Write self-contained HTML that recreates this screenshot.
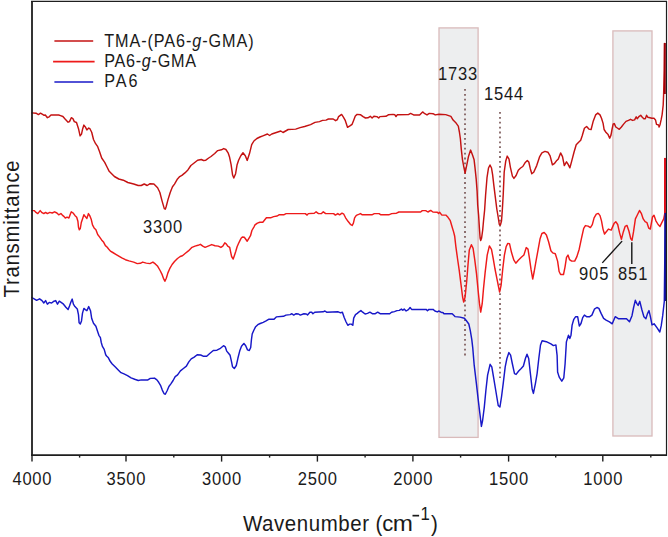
<!DOCTYPE html>
<html><head><meta charset="utf-8"><style>
html,body{margin:0;padding:0;background:#fff;}
svg{display:block;}
text{font-family:"Liberation Sans", sans-serif;}
</style></head><body>
<svg width="668" height="537" viewBox="0 0 668 537">
<rect width="668" height="537" fill="#fff"/>
<g fill="#edeeef" stroke="#d9bbbb" stroke-width="1.3">
<rect x="439" y="27.9" width="39.1" height="409.5"/>
<rect x="612.9" y="30.9" width="39.1" height="405.1"/>
</g>
<g fill="none" stroke="#6b4444" stroke-width="1.5" stroke-dasharray="1.8 3.1">
<line x1="465" y1="89" x2="465" y2="356"/>
<line x1="500" y1="112" x2="500" y2="378"/>
</g>
<g fill="none" stroke-width="1.45" stroke-linejoin="round" stroke-linecap="round">
<path d="M31.8 297.6L34.2 298.8L36.6 300.3L39.6 298.8L42.0 300.6L43.8 303.0L45.6 300.6L47.4 304.2L49.2 302.4L51.6 303.0L54.0 301.2L55.7 300.6L57.5 304.2L59.3 301.2L61.1 302.4L63.5 304.2L65.9 307.2L68.1 309.6L69.5 306.0L71.0 301.8L72.2 299.1L73.4 304.2L74.9 306.6L77.3 309.0L78.5 314.9L79.1 322.7L80.3 323.9L81.5 320.9L82.5 313.1L83.9 308.4L85.3 309.6L86.9 310.7L88.7 306.6L90.5 310.7L91.7 318.5L93.5 323.3L95.9 326.3L97.7 331.7L98.9 335.3L100.4 337.6L101.2 342.2L102.4 346.4L104.2 349.4L105.7 354.8L106.6 356.0L108.4 357.8L110.2 361.3L112.0 363.7L113.8 365.5L115.6 367.3L118.0 369.7L121.0 372.7L124.0 373.9L127.5 375.7L131.1 377.9L134.7 379.3L138.3 380.5L141.3 379.9L147.9 379.9L150.3 378.4L154.5 378.1L156.9 379.9L158.7 382.3L160.5 385.3L162.3 390.1L164.1 393.7L165.3 394.3L167.1 390.7L168.9 386.5L170.7 384.1L173.1 380.5L175.2 376.6L177.6 374.8L180.4 370.9L183.4 368.5L186.4 366.1L188.8 361.9L191.2 358.9L194.2 357.1L197.2 354.7L200.7 355.0L203.1 356.2L206.7 356.2L209.7 353.5L213.3 350.5L216.9 350.2L219.9 348.7L223.5 345.7L225.3 346.9L226.7 351.1L228.7 353.5L230.1 355.3L231.3 360.7L232.5 366.7L234.3 368.5L236.3 365.5L237.9 358.3L239.7 351.1L241.5 346.3L243.9 343.4L245.7 345.7L247.5 349.9L249.3 350.5L250.7 347.5L251.4 340.0L252.2 334.0L253.6 330.7L255.4 327.1L257.8 324.7L260.2 323.5L263.2 322.3L265.6 321.1L268.6 319.3L274.0 319.3L276.3 316.9L283.5 316.3L285.9 315.1L290.1 314.6L291.9 313.7L293.7 315.1L296.1 313.7L298.5 314.0L300.3 315.1L303.9 313.7L306.3 314.0L307.5 314.9L309.9 312.2L311.7 312.2L312.9 313.7L314.7 312.2L323.1 311.8L324.9 311.0L326.6 312.2L338.2 311.8L340.6 312.8L342.4 312.2L344.2 317.5L346.0 321.7L347.8 325.3L349.6 324.1L351.3 324.1L352.8 325.3L353.7 318.1L355.5 314.6L357.3 313.4L359.1 311.8L360.9 310.6L362.7 312.2L365.1 314.0L367.5 313.4L369.9 312.2L372.3 313.7L375.3 313.7L377.7 312.2L380.1 313.7L389.7 313.7L391.5 312.2L394.5 311.6L396.9 310.6L399.3 310.4L401.4 309.1L402.8 310.3L404.2 309.1L406.1 311.0L408.4 309.6L410.1 307.5L411.6 309.4L426.1 309.4L427.5 310.7L428.9 309.4L433.1 309.4L434.9 311.0L437.3 311.9L438.7 311.0L441.0 312.2L443.3 312.8L443.8 313.8L452.2 313.8L455.0 316.6L460.0 317.1L464.4 318.2L466.6 321.0L468.8 324.0L470.3 330.7L471.8 339.6L472.8 348.4L474.2 365.2L476.4 383.6L478.1 398.7L479.7 412.1L481.4 426.4L482.6 420.5L484.3 407.1L485.9 390.3L487.6 375.2L490.1 364.3L491.8 366.8L493.5 376.9L496.0 392.0L498.2 405.4L499.9 407.1L501.5 397.0L503.2 383.6L505.2 366.8L506.9 358.5L508.9 352.6L510.6 355.1L512.3 363.5L514.5 373.6L516.1 374.4L518.7 371.0L521.2 368.5L523.4 366.0L525.4 358.5L527.0 354.3L528.7 358.5L530.4 373.6L532.1 388.7L533.4 393.4L535.4 383.6L537.1 373.6L538.8 358.5L540.5 345.0L542.1 340.8L546.3 341.7L550.9 343.9L553.4 345.6L555.9 344.9L557.1 355.3L557.6 372.0L559.2 377.1L561.8 381.2L563.8 377.9L565.1 363.7L566.4 341.9L568.5 335.2L569.8 338.5L571.0 335.2L572.1 325.1L573.8 319.3L575.5 316.8L577.7 316.8L579.3 326.0L581.0 323.5L582.7 317.6L584.4 315.1L586.9 316.8L589.4 316.8L591.9 315.1L594.4 309.2L596.9 307.5L598.9 308.4L601.1 313.4L603.6 318.4L606.1 320.1L609.5 321.8L612.2 323.8L615.2 316.7L618.3 318.7L622.4 318.7L626.5 318.7L629.5 321.8L632.0 315.7L633.6 307.5L635.3 300.3L636.7 303.4L638.1 305.4L639.8 301.3L641.8 309.5L643.9 316.7L645.9 318.7L647.5 313.6L649.0 310.6L650.4 316.7L652.0 324.9L654.1 323.8L657.1 327.9L659.8 332.0L661.2 325.9L662.7 315.7L664.3 301.3L665.3 213.0" stroke="#1818c8"/>
<path d="M31.8 210.6L34.2 210.6L36.0 212.4L37.8 213.6L40.2 210.6L42.0 212.7L43.8 213.6L45.6 212.4L47.4 213.6L49.8 212.4L52.2 213.0L54.6 211.8L56.9 213.0L58.7 214.8L60.9 213.6L62.3 215.1L64.1 216.6L65.3 218.0L67.1 217.2L68.9 218.0L70.1 214.8L71.3 211.8L73.1 213.0L74.9 215.4L76.7 217.2L77.9 221.3L78.5 227.3L79.3 229.7L80.3 228.5L81.3 222.5L82.5 219.0L83.9 214.8L85.3 216.6L86.9 218.4L88.4 213.6L89.9 216.0L91.3 219.6L92.5 224.9L94.1 227.9L95.9 229.7L97.7 234.5L99.5 236.9L101.6 239.9L103.7 242.3L105.4 245.6L107.0 247.0L108.6 249.0L110.4 251.1L112.8 252.5L115.8 254.3L118.8 256.1L121.8 257.9L125.4 259.7L129.0 260.9L133.7 262.1L137.3 263.6L140.3 263.3L142.7 262.1L146.3 263.1L149.9 263.6L152.9 262.1L155.3 263.9L157.7 266.3L160.1 270.5L161.9 274.1L163.7 278.9L164.9 281.3L166.3 278.3L167.9 272.9L169.7 268.7L172.1 264.5L174.5 261.5L177.5 258.5L180.2 256.5L182.4 255.7L185.4 253.3L188.4 250.9L192.0 247.3L195.0 246.1L198.0 245.3L200.4 244.3L202.8 246.1L205.1 247.3L208.1 246.1L211.7 244.6L215.0 245.7L218.3 246.1L220.9 247.4L222.8 246.1L224.8 242.8L226.4 244.1L227.7 246.1L229.7 247.4L230.5 251.3L231.6 256.5L233.2 259.1L234.5 255.2L235.8 251.3L237.1 246.7L238.5 243.5L239.8 240.9L241.1 238.3L242.4 237.0L244.3 237.3L245.6 239.0L247.2 241.2L248.9 238.3L250.5 235.7L251.9 230.5L254.3 226.3L255.0 224.9L257.4 223.1L259.8 222.3L262.8 222.3L266.4 217.8L270.6 217.8L273.6 216.6L277.2 216.0L279.0 214.8L283.7 214.8L286.1 213.6L290.9 213.6L305.3 213.6L307.1 215.1L308.3 213.6L314.3 213.2L316.1 211.8L318.5 213.6L321.5 213.6L323.3 211.8L325.7 213.6L333.6 213.6L335.4 215.1L337.8 213.6L339.6 214.8L342.0 213.2L343.8 214.2L345.6 217.8L348.0 221.3L350.4 224.3L352.2 225.5L353.4 223.1L354.6 217.8L356.3 215.4L358.7 214.4L360.5 213.6L362.3 214.8L371.9 214.8L374.3 213.6L379.1 213.6L380.9 214.8L388.7 214.8L391.7 213.6L396.5 213.2L398.9 212.0L420.6 212.0L422.3 210.6L425.7 210.6L427.9 212.0L430.7 210.4L432.9 212.0L437.4 212.3L438.5 213.4L439.6 212.3L441.9 215.1L445.8 215.1L448.0 217.3L450.3 220.7L451.9 226.3L453.6 231.9L454.7 236.3L455.9 246.8L457.5 258.5L459.2 270.2L460.9 283.6L462.6 297.0L463.7 302.0L465.1 297.0L466.8 280.3L468.1 263.5L469.3 250.1L471.4 244.7L473.1 248.4L474.8 260.2L476.5 273.6L478.1 290.3L479.5 303.7L480.7 312.1L482.2 303.7L483.5 288.6L485.2 271.9L487.2 255.1L489.4 245.9L491.5 249.3L493.2 258.5L494.9 268.5L496.9 278.6L498.6 287.0L499.6 292.0L501.1 285.3L502.8 268.5L504.4 255.1L506.1 246.8L507.8 243.4L509.5 243.6L511.6 252.8L513.9 260.2L515.8 263.2L518.3 260.2L521.3 257.3L523.9 255.0L526.2 247.6L528.0 249.1L529.5 258.7L531.0 269.2L532.7 279.0L534.2 271.5L536.0 261.1L538.2 249.2L540.1 238.7L541.9 233.5L544.2 232.5L546.4 235.0L548.6 241.7L550.9 250.7L552.7 252.9L555.3 253.7L557.6 261.1L559.1 271.5L560.6 274.5L563.5 274.5L565.0 267.1L566.5 257.4L568.0 255.1L569.5 259.6L571.7 261.1L574.7 261.1L576.9 256.6L579.2 249.2L581.4 238.7L583.7 228.3L585.4 225.6L588.1 226.1L590.4 227.6L592.3 224.6L594.1 217.9L596.3 214.2L598.3 213.4L600.0 215.6L601.5 220.9L603.0 229.1L604.5 234.0L606.7 231.3L608.4 229.1L611.2 230.1L614.0 223.6L615.8 221.7L617.7 224.5L619.6 232.9L621.4 239.4L623.3 231.9L625.1 226.4L627.0 225.4L628.9 231.0L630.7 238.5L632.0 240.3L633.5 231.9L635.4 218.9L637.2 215.2L639.5 210.5L641.3 213.3L643.2 218.9L645.1 221.7L646.9 222.6L648.8 228.2L650.3 229.1L652.5 217.0L654.0 215.2L655.9 220.8L658.1 224.5L660.0 226.4L661.8 222.6L663.7 218.9L664.8 213.3L665.0 158.4" stroke="#ee1a1a"/>
<path d="M31.8 112.9L36.0 113.2L38.4 114.6L40.5 113.2L42.6 114.4L44.1 115.3L45.3 115.0L47.4 117.7L49.2 116.8L51.0 115.0L58.7 115.0L60.5 115.6L62.9 116.5L65.3 119.2L68.1 122.2L69.5 121.6L71.3 117.7L72.9 118.6L74.3 121.6L76.5 122.5L78.5 128.7L80.1 135.9L81.5 134.1L82.7 128.7L83.9 125.1L85.3 126.9L86.9 129.9L88.7 128.1L89.9 128.7L91.7 132.3L93.5 139.5L95.6 143.7L97.7 146.7L99.5 151.5L101.7 158.0L104.7 162.4L106.9 166.8L109.2 171.3L111.4 173.5L114.4 176.5L118.8 179.0L123.3 180.2L127.8 182.5L133.7 184.0L138.2 185.5L141.2 185.5L144.2 184.0L147.2 185.5L150.1 183.7L153.9 184.0L157.6 187.7L159.8 192.2L162.1 201.1L164.3 208.6L165.3 209.2L166.2 206.5L168.0 199.6L170.3 192.2L172.5 186.8L174.5 184.1L177.5 178.9L179.7 176.6L181.9 175.4L184.9 172.9L187.9 169.9L190.9 165.5L193.8 163.2L197.6 160.2L201.3 159.5L203.5 160.5L205.8 160.2L208.7 158.0L211.0 156.5L214.7 153.5L217.7 150.6L221.4 149.8L223.7 148.6L225.9 149.5L228.1 152.8L229.6 157.3L231.1 164.7L232.6 175.1L233.8 178.1L235.6 173.7L237.1 164.7L238.6 160.2L240.8 155.8L243.0 152.8L245.3 155.8L247.2 160.4L249.5 153.6L251.7 144.7L253.9 141.0L256.9 138.5L259.9 137.0L262.9 135.8L267.4 134.0L269.6 135.5L271.8 134.0L276.3 132.5L280.8 131.0L283.0 132.5L288.2 129.5L295.7 129.1L300.1 127.6L304.6 126.5L310.6 124.6L315.0 122.4L319.5 121.6L322.5 120.4L326.0 120.1L328.4 119.0L333.2 119.0L335.6 120.7L337.4 119.6L338.6 116.6L341.6 114.4L343.4 117.2L345.1 120.1L347.5 127.3L349.9 125.9L352.1 124.3L353.5 120.7L355.3 116.0L357.1 114.4L360.7 114.8L363.1 116.6L365.5 118.0L367.9 117.8L370.3 116.3L372.1 118.0L373.9 116.3L376.9 116.6L378.7 118.0L379.9 116.6L385.9 116.3L388.3 114.8L393.0 114.4L394.9 114.8L396.0 116.6L397.2 114.8L408.4 114.6L410.6 113.4L413.6 114.9L419.6 114.9L422.6 111.9L424.8 113.7L427.0 114.9L429.3 113.4L433.0 113.7L435.2 114.9L439.0 114.2L445.7 114.6L450.9 116.4L453.1 120.1L456.1 123.1L458.3 126.1L459.4 132.0L460.4 139.0L461.3 149.4L462.5 159.8L463.9 167.3L465.1 173.2L466.9 164.3L468.4 156.8L470.6 150.1L472.6 155.3L474.1 159.8L475.1 168.7L476.2 179.2L477.1 191.1L477.7 205.0L478.6 215.0L479.4 228.0L480.1 238.0L480.7 240.5L481.6 238.0L482.7 230.0L483.6 220.0L484.6 210.2L485.6 195.0L487.0 177.7L488.5 168.0L490.0 165.0L491.5 168.0L492.6 174.7L494.0 186.6L495.5 198.6L496.8 209.0L498.0 216.0L499.3 224.5L500.4 225.0L501.5 221.0L502.3 210.5L503.2 195.0L504.2 172.0L505.7 161.3L507.2 156.1L509.0 159.1L510.4 167.3L512.4 176.2L513.9 178.4L516.1 175.5L518.3 170.2L520.6 168.0L522.8 166.5L525.0 162.8L527.3 160.6L528.8 162.0L530.3 168.7L531.8 173.8L533.7 172.3L536.7 165.6L539.7 156.6L541.9 152.9L544.9 151.4L547.9 152.2L550.1 155.9L552.4 164.8L554.6 163.3L556.8 160.4L558.3 158.9L560.6 152.9L562.5 156.6L564.3 165.6L566.5 161.8L568.0 164.1L569.9 167.8L571.7 161.1L574.0 152.2L576.2 144.7L578.4 142.5L580.7 140.2L582.2 135.8L584.4 128.3L586.6 126.5L588.9 129.1L591.1 129.5L593.3 120.9L595.6 114.9L597.8 113.1L600.0 114.9L601.5 118.3L603.1 123.4L604.1 129.5L606.1 132.6L608.1 134.6L609.7 138.2L611.0 135.1L612.0 129.5L613.2 123.9L614.3 123.6L615.8 127.0L617.3 128.0L619.3 129.3L621.4 127.0L623.4 124.4L626.0 121.4L628.5 120.4L630.5 119.3L632.6 120.4L634.6 119.9L636.2 116.8L637.2 118.8L639.2 116.3L640.7 115.3L642.3 117.3L643.8 118.8L645.3 118.8L646.6 115.3L647.9 117.3L649.9 117.8L651.9 118.3L654.0 118.3L655.5 119.9L656.5 124.4L658.6 125.0L659.1 127.0L660.1 124.4L661.1 119.9L662.1 114.8L663.2 105.0L663.6 95.0L664.3 70.0L664.6 43.5" stroke="#c41212"/>
</g>
<rect x="663.8" y="43" width="2" height="51" fill="#a00008"/>
<rect x="664.2" y="158" width="1.6" height="56" fill="#e00010"/>
<rect x="664.4" y="213" width="1.6" height="88" fill="#10109a"/>
<g fill="none" stroke="#1e1e1e">
<line x1="32" y1="0.9" x2="32" y2="456" stroke-width="1.8"/>
<line x1="666.5" y1="0.9" x2="666.5" y2="456" stroke-width="1.2"/>
<line x1="31" y1="1.4" x2="667" y2="1.4" stroke-width="1.2"/>
<line x1="31" y1="455.1" x2="667" y2="455.1" stroke-width="1.7"/>
<g stroke-width="1.4"><line x1="32.00" y1="455" x2="32.00" y2="461.6"/><line x1="79.60" y1="455" x2="79.60" y2="457.6"/><line x1="126.00" y1="455" x2="126.00" y2="461.6"/><line x1="173.80" y1="455" x2="173.80" y2="457.6"/><line x1="221.60" y1="455" x2="221.60" y2="461.6"/><line x1="269.60" y1="455" x2="269.60" y2="457.6"/><line x1="317.40" y1="455" x2="317.40" y2="461.6"/><line x1="365.10" y1="455" x2="365.10" y2="457.6"/><line x1="412.90" y1="455" x2="412.90" y2="461.6"/><line x1="460.60" y1="455" x2="460.60" y2="457.6"/><line x1="508.60" y1="455" x2="508.60" y2="461.6"/><line x1="555.70" y1="455" x2="555.70" y2="457.6"/><line x1="602.80" y1="455" x2="602.80" y2="461.6"/><line x1="650.80" y1="455" x2="650.80" y2="457.6"/></g>
</g>
<g font-size="18" fill="#1a1a1a" text-anchor="middle">
<text transform="translate(32.00,485.2) scale(0.92,1.02)" textLength="42.5" lengthAdjust="spacing">4000</text><text transform="translate(126.00,485.2) scale(0.92,1.02)" textLength="42.5" lengthAdjust="spacing">3500</text><text transform="translate(221.60,485.2) scale(0.92,1.02)" textLength="42.5" lengthAdjust="spacing">3000</text><text transform="translate(317.40,485.2) scale(0.92,1.02)" textLength="42.5" lengthAdjust="spacing">2500</text><text transform="translate(412.90,485.2) scale(0.92,1.02)" textLength="42.5" lengthAdjust="spacing">2000</text><text transform="translate(508.60,485.2) scale(0.92,1.02)" textLength="42.5" lengthAdjust="spacing">1500</text><text transform="translate(602.80,485.2) scale(0.92,1.02)" textLength="42.5" lengthAdjust="spacing">1000</text>
</g>
<g stroke-width="1.6">
<line x1="54.4" y1="41" x2="93.2" y2="41" stroke="#c41212"/>
<line x1="53.1" y1="61.6" x2="94.6" y2="61.6" stroke="#ee1a1a"/>
<line x1="54.4" y1="82" x2="93.2" y2="82" stroke="#1818c8"/>
</g>
<g font-size="18" fill="#1a1a1a">
<text transform="translate(104.2,46.8) scale(0.9,1.03)" textLength="166" lengthAdjust="spacing">TMA-(PA6-<tspan font-style="italic">g</tspan>-GMA)</text>
<text transform="translate(104.2,67) scale(0.9,1.03)" textLength="102" lengthAdjust="spacing">PA6-<tspan font-style="italic">g</tspan>-GMA</text>
<text transform="translate(104.2,87.4) scale(0.9,1.03)" textLength="37" lengthAdjust="spacing">PA6</text>
<text transform="translate(438,79.5) scale(0.92,1.02)" textLength="42.5" lengthAdjust="spacing">1733</text>
<text transform="translate(484,99.6) scale(0.92,1.02)" textLength="42.5" lengthAdjust="spacing">1544</text>
<text transform="translate(143,233.4) scale(0.92,1.02)" textLength="42.5" lengthAdjust="spacing">3300</text>
<text transform="translate(579,279.5) scale(0.92,1.02)" textLength="32" lengthAdjust="spacing">905</text>
<text transform="translate(618,279.5) scale(0.92,1.02)" textLength="32" lengthAdjust="spacing">851</text>
</g>
<g stroke="#151515" stroke-width="1.4">
<line x1="602.3" y1="262.9" x2="622.1" y2="241.1"/>
<line x1="631.8" y1="242.2" x2="631.8" y2="264"/>
</g>
<g font-size="22" fill="#1a1a1a">
<text transform="translate(243,530.6) scale(0.93,1.02)" textLength="135.5" lengthAdjust="spacing">Wavenumber</text>
<text transform="translate(375.5,530.6) scale(0.93,1.02)">(</text>
<text transform="translate(382.3,530.6) scale(1.0,1.02)">c</text>
<text transform="translate(392.8,530.6) scale(1.1,1.02)">m</text>
<rect x="412.5" y="514.8" width="6.6" height="1.7"/>
<text transform="translate(420.6,519.9) scale(0.93,1.02)" font-size="18">1</text>
<text transform="translate(431,530.6) scale(0.93,1.02)">)</text>
</g>
<text transform="translate(18.5,297.5) rotate(-90) scale(0.92,1.02)" font-size="22" fill="#1a1a1a" textLength="149" lengthAdjust="spacing">Transmittance</text>
</svg>
</body></html>
